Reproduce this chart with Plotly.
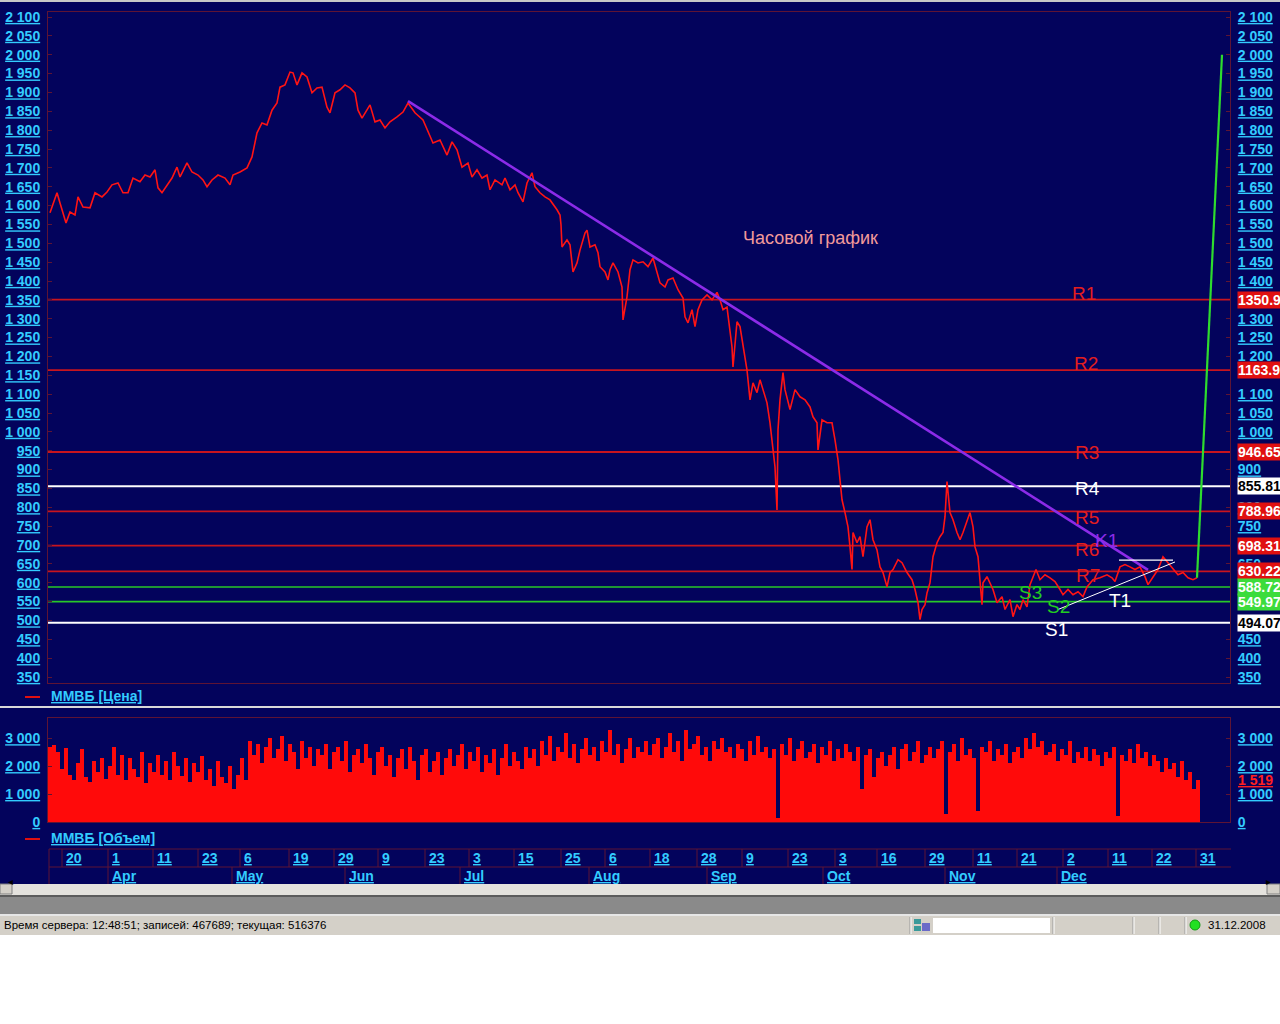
import plotly.graph_objects as go

# ---------------- data ----------------
price_bar = [0, 7, 10, 13, 16, 20, 25, 28, 33, 40, 45, 52, 57, 62, 68, 73, 78, 83, 90, 95,
             100, 105, 108, 112, 117, 122, 127, 130, 137, 142, 148, 153, 157, 162, 168, 175, 180, 183, 190, 197,
             202, 207, 212, 217, 222, 227, 230, 235, 240, 243, 247, 252, 257, 262, 267, 272, 277, 280, 285, 290,
             295, 300, 305, 308, 312, 315, 320, 325, 330, 335, 340, 347, 353, 358, 365, 373, 378, 383, 390, 397,
             402, 407, 412, 418, 422, 427, 432, 437, 440, 445, 452, 455, 460, 465, 468, 473, 477, 482, 485, 490,
             495, 500, 507, 510, 511, 512, 517, 520, 523, 527, 530, 535, 537, 540, 545, 548, 550, 555, 558, 560,
             563, 568, 572, 573, 577, 580, 583, 588, 593, 598, 603, 607, 610, 615, 618, 623, 628, 633, 635, 638,
             642, 645, 648, 652, 657, 662, 667, 670, 673, 677, 680, 682, 683, 685, 687, 690, 693, 697, 700, 703,
             707, 710, 713, 717, 720, 723, 725, 727, 728, 730, 733, 735, 740, 745, 750, 755, 760, 763, 767, 768,
             772, 777, 782, 785, 788, 790, 792, 795, 798, 800, 802, 803, 807, 810, 813, 817, 820, 823, 827, 830,
             833, 837, 840, 843, 848, 852, 857, 862, 865, 868, 870, 872, 875, 877, 880, 883, 887, 890, 893, 895,
             897, 900, 903, 907, 910, 913, 917, 920, 923, 925, 928, 930, 932, 933, 937, 943, 947, 952, 955, 960,
             963, 967, 970, 973, 977, 980, 983, 986, 990, 995, 1000, 1005, 1010, 1013, 1018, 1023, 1028, 1033, 1037, 1043,
             1050, 1057, 1062, 1065, 1070, 1075, 1080, 1085, 1090, 1095, 1098, 1103, 1108, 1113, 1118, 1123, 1128, 1133, 1138, 1143,
             1147]
price_close = [1581, 1634, 1607, 1581, 1554, 1583, 1575, 1623, 1596, 1594, 1634, 1623, 1636, 1655, 1660, 1634, 1634, 1673, 1663, 1681,
               1676, 1695, 1647, 1634, 1655, 1673, 1702, 1676, 1713, 1689, 1681, 1668, 1650, 1668, 1681, 1673, 1655, 1681, 1689, 1700,
               1729, 1793, 1819, 1814, 1853, 1872, 1914, 1920, 1954, 1952, 1920, 1952, 1941, 1899, 1912, 1914, 1861, 1846, 1899, 1907,
               1920, 1912, 1899, 1853, 1832, 1846, 1867, 1822, 1827, 1806, 1822, 1835, 1848, 1872, 1846, 1827, 1795, 1766, 1774, 1734,
               1769, 1748, 1702, 1713, 1676, 1695, 1673, 1681, 1642, 1668, 1655, 1673, 1642, 1655, 1634, 1610, 1660, 1687, 1650, 1634,
               1623, 1615, 1589, 1575, 1549, 1490, 1509, 1496, 1424, 1448, 1482, 1527, 1535, 1490, 1496, 1475, 1438, 1424, 1403, 1430,
               1448, 1424, 1384, 1297, 1358, 1430, 1456, 1448, 1451, 1438, 1461, 1424, 1395, 1384, 1403, 1408, 1377, 1355, 1305, 1289,
               1324, 1279, 1324, 1350, 1363, 1350, 1370, 1350, 1324, 1331, 1270, 1225, 1172, 1244, 1292, 1279, 1225, 1164, 1085, 1130,
               1104, 1138, 1112, 1077, 1024, 960, 907, 793, 1005, 1085, 1157, 1112, 1059, 1112, 1093, 1085, 1066, 1040, 1024, 952,
               1032, 1024, 1024, 979, 926, 873, 820, 786, 748, 695, 635, 733, 706, 722, 669, 748, 767, 714, 687, 642,
               627, 589, 627, 635, 661, 653, 627, 608, 582, 547, 502, 529, 542, 573, 600, 669, 706, 722, 733, 775,
               868, 786, 767, 733, 714, 733, 767, 786, 748, 695, 669, 600, 542, 600, 616, 582, 547, 563, 529, 555,
               510, 542, 529, 555, 536, 595, 616, 635, 608, 621, 613, 603, 582, 568, 582, 568, 576, 563, 589, 608,
               613, 621, 613, 603, 642, 648, 642, 635, 642, 616, 595, 616, 635, 669, 653, 635, 621, 627, 613, 608,
               613]

vol_values = [2700, 2750, 2500, 1900, 2650, 1700, 1500, 2100, 2600, 1600, 1450, 2200, 1800, 2300, 1550, 2000, 2700, 1700, 2400, 1500,
              2300, 1900, 1600, 2500, 1400, 2100, 1800, 2400, 1700, 2200, 1500, 2500, 2000, 1650, 2300, 1450, 2100, 1800, 2350, 1500,
              1900, 1300, 2200, 1600, 1400, 2000, 1200, 1700, 2300, 1500,
              2900, 2400, 2800, 2100, 2700, 3000, 2300, 2600, 3100, 2200, 2800, 2500, 1900, 2900, 2300, 2700, 2000, 2600, 2400, 2800,
              1900, 2500, 2700, 2200, 2900, 1800, 2400, 2600, 2100, 2800, 2300, 1700, 2500, 2700, 2000, 2400, 1600, 2300, 2600, 1900,
              2700, 2200, 1500, 2400, 2600, 1800, 2200, 2500, 1700, 2300,
              2600, 2000, 2400, 2800, 1900, 2500, 2200, 2700, 1800, 2400, 2100, 2600, 1700, 2300, 2800, 2000, 2500, 2200, 1900, 2700,
              2300, 2600, 2000, 2900, 2400, 3100, 2200, 2700, 2500, 3200, 2300, 2800, 2100, 2600, 3000, 2400, 2700, 2200, 2900, 2500,
              3300, 2400, 2800, 2100, 2600, 3000, 2300, 2700, 2500, 2900,
              2400, 2800, 3000, 2300, 2700, 3200, 2500, 2900, 2200, 3300, 2600, 2800, 3100, 2400, 2700, 2200, 2900, 2600, 3000, 2500,
              2700, 2300, 2800, 2600, 2200, 2900, 2400, 3100, 2500, 2700, 2300, 2600, 150, 2800, 2400, 3000, 2200, 2600, 2900, 2300,
              2500, 2800, 2100, 2700, 2400, 2900, 2200, 2600, 2300, 2800,
              2500, 2200, 2700, 1200, 2400, 2600, 1600, 2300, 2500, 2000, 2400, 2700, 1900, 2600, 2800, 2200, 2500, 2900, 2100, 2400,
              2700, 2300, 2600, 2900, 300, 2500, 2800, 2200, 3000, 2400, 2600, 2300, 400, 2700, 2500, 2900, 2200, 2600, 2400, 2800,
              2100, 2500, 2700, 2300, 3000, 2600, 3200, 2700, 2900, 2400,
              2500, 2800, 2200, 2600, 2400, 2900, 2100, 2500, 2300, 2700, 2200, 2600, 2400, 2000, 2500, 2300, 2700, 200, 2400, 2200,
              2600, 2100, 2800, 2300, 2500, 2000, 2400, 2200, 1800, 2300, 1900, 2100, 1600, 2200, 1500, 1800, 1200, 1519]
vol_step = 4
vol_current = 1519

price_ticks = list(range(350, 2101, 50))
price_ticks_right = [2100, 2050, 2000, 1950, 1900, 1850, 1800, 1750, 1700, 1650, 1600, 1550, 1500, 1450, 1400,
                     1300, 1250, 1200, 1100, 1050, 1000, 900, 800, 750, 650, 450, 400, 350]
vol_ticks = [0, 1000, 2000, 3000]

level_values = [1350.9, 1163.9, 946.65, 855.81, 788.96, 698.31, 630.22, 588.72, 549.97, 494.07]
level_names = ["R1", "R2", "R3", "R4", "R5", "R6", "R7", "S3", "S2", "S1"]
level_kinds = ["r", "r", "r", "w", "r", "r", "r", "g", "g", "w"]
label_bar = [1034, 1036, 1037, 1037, 1037, 1037, 1038, 980, 1008, 1006]
label_price = [1368, 1180, 944, 851, 772, 687, 618, 575, 536, 477]

k1_bar, k1_price = [358, 1098], [1877, 634]
t1_bar, t1_price = [1008, 1125], [529, 655]
cap_bar, cap_price = [1069, 1123], [660, 660]
fc_bar, fc_price = [1147, 1172], [613, 2000]

day_labels = ["20", "1", "11", "23", "6", "19", "29", "9", "23", "3", "15", "25", "6", "18", "28", "9",
              "23", "3", "16", "29", "11", "21", "2", "11", "22", "31"]
day_bars = [12, 58, 103, 148, 190, 239, 284, 328, 375, 419, 464, 511, 555, 600, 647, 692,
            738, 785, 827, 875, 923, 967, 1013, 1058, 1102, 1146]
month_labels = ["Apr", "May", "Jun", "Jul", "Aug", "Sep", "Oct", "Nov", "Dec"]
month_bars = [58, 182, 295, 410, 539, 657, 773, 895, 1007]

# ---------------- styling ----------------
W, H = 1280, 1024
NAVY = "#03035C"
FRAME = "#5E1434"
CYAN = "#33CCFF"
RED_LINE = "#C8141E"
GREEN_LINE = "#28C828"
TICKFONT = dict(family="Liberation Sans", size=14, color=CYAN, weight="bold", lineposition="under")


def PX(p):
    return p / W


def PY(p):
    return 1 - p / H


def thousands(v):
    return f"{v:,}".replace(",", " ")


XR = [-2, 1180]
PRANGE = [334.1, 2113.3]
VRANGE = [0, 3727]

fig = go.Figure()

# price line
fig.add_trace(go.Scatter(x=price_bar, y=price_close, mode="lines",
                         line=dict(color="#FF1414", width=1.6), xaxis="x", yaxis="y", hoverinfo="skip"))
# trend lines
fig.add_trace(go.Scatter(x=k1_bar, y=k1_price, mode="lines", line=dict(color="#8C2BE8", width=2.6),
                         xaxis="x", yaxis="y", hoverinfo="skip"))
fig.add_trace(go.Scatter(x=t1_bar, y=t1_price, mode="lines", line=dict(color="#FFFFFF", width=1),
                         xaxis="x", yaxis="y", hoverinfo="skip"))
fig.add_trace(go.Scatter(x=cap_bar, y=cap_price, mode="lines", line=dict(color="#FFFFFF", width=1.2),
                         xaxis="x", yaxis="y", hoverinfo="skip"))
fig.add_trace(go.Scatter(x=fc_bar, y=fc_price, mode="lines", line=dict(color="#2EDC2E", width=2.2),
                         xaxis="x", yaxis="y", hoverinfo="skip"))
# invisible trace so the right price axis exists
fig.add_trace(go.Scatter(x=price_bar[:1], y=price_close[:1], mode="markers", marker=dict(opacity=0),
                         xaxis="x", yaxis="y2", hoverinfo="skip"))
# volume
vol_bar = [i * vol_step for i in range(len(vol_values))]
fig.add_trace(go.Bar(x=vol_bar, y=vol_values, width=vol_step, marker=dict(color="#FF0A0A", line=dict(width=0)),
                     xaxis="x2", yaxis="y3", hoverinfo="skip"))
fig.add_trace(go.Scatter(x=vol_bar[:1], y=vol_values[:1], mode="markers", marker=dict(opacity=0),
                         xaxis="x2", yaxis="y4", hoverinfo="skip"))

axis_common = dict(showgrid=False, zeroline=False, showline=True, linecolor=FRAME, linewidth=1, automargin=False)
ydef = dict(ticks="inside", ticklen=4, tickcolor=FRAME, tickfont=TICKFONT, ticklabelstandoff=4,
            tickmode="array", **axis_common)

fig.update_layout(
    width=W, height=H, autosize=False, margin=dict(l=0, r=0, t=0, b=0, pad=0, autoexpand=False),
    paper_bgcolor=NAVY, plot_bgcolor=NAVY, showlegend=False, bargap=0,
    font=dict(family="Liberation Sans", size=14, color=CYAN),
    xaxis=dict(domain=[PX(48), PX(1230)], range=XR, showticklabels=False, ticks="", mirror=True,
               anchor="y", **axis_common),
    yaxis=dict(domain=[PY(683), PY(12)], range=PRANGE, side="left", mirror=True, anchor="x",
               tickvals=price_ticks, ticktext=[thousands(v) for v in price_ticks], **ydef),
    yaxis2=dict(range=PRANGE, side="right", overlaying="y", anchor="x",
                tickvals=price_ticks_right, ticktext=[thousands(v) for v in price_ticks_right], **ydef),
    xaxis2=dict(domain=[PX(48), PX(1230)], range=XR, showticklabels=False, ticks="", mirror=True,
                anchor="y3", **axis_common),
    yaxis3=dict(domain=[PY(822), PY(718)], range=VRANGE, side="left", mirror=True, anchor="x2",
                tickvals=vol_ticks, ticktext=[thousands(v) for v in vol_ticks], **ydef),
    yaxis4=dict(range=VRANGE, side="right", overlaying="y3", anchor="x2",
                tickvals=vol_ticks, ticktext=[thousands(v) for v in vol_ticks], **ydef),
)

shapes = []
ann = []


def rect(x0, y0, x1, y1, fill, line_color=None, lw=0):
    shapes.append(dict(type="rect", xref="paper", yref="paper", x0=PX(x0), x1=PX(x1), y0=PY(y1), y1=PY(y0),
                       fillcolor=fill, line=dict(width=lw, color=line_color or fill), layer="above"))


def pline(x0, y0, x1, y1, color, w=1):
    shapes.append(dict(type="line", xref="paper", yref="paper", x0=PX(x0), x1=PX(x1), y0=PY(y0), y1=PY(y1),
                       line=dict(color=color, width=w), layer="above"))


# level lines
kind_color = {"r": RED_LINE, "g": GREEN_LINE, "w": "#FFFFFF"}
kind_width = {"r": 1.8, "g": 1.6, "w": 2}
for v, k in zip(level_values, level_kinds):
    shapes.append(dict(type="line", xref="x domain", yref="y", x0=0, x1=1, y0=v, y1=v,
                       line=dict(color=kind_color[k], width=kind_width[k]), layer="below"))

# level labels in plot
label_color = {"r": "#E41E1E", "g": "#22CC22", "w": "#FFFFFF"}
for name, k, b, p in zip(level_names, level_kinds, label_bar, label_price):
    ann.append(dict(x=b, y=p, xref="x", yref="y", text=name, showarrow=False,
                    font=dict(family="Liberation Sans", size=19, color=label_color[k])))
ann.append(dict(x=1070, y=554, xref="x", yref="y", text="T1", showarrow=False,
                font=dict(family="Liberation Sans", size=19, color="#FFFFFF")))
ann.append(dict(x=1056, y=711, xref="x", yref="y", text="K1", showarrow=False,
                font=dict(family="Liberation Sans", size=19, color="#8C2BE8")))
ann.append(dict(x=760, y=1514, xref="x", yref="y", text="Часовой график", showarrow=False,
                font=dict(family="Liberation Sans", size=18, color="#F29A9A")))

# right side value boxes
box_bg = {"r": "#E01010", "g": "#3CDC3C", "w": "#FFFFFF"}
box_fg = {"r": "#FFFFFF", "g": "#FFFFFF", "w": "#000000"}
for v, k in zip(level_values, level_kinds):
    ann.append(dict(x=PX(1237), y=v, xref="paper", yref="y", text=f"{v:g}", showarrow=False,
                    xanchor="left", yanchor="middle", bgcolor=box_bg[k], borderpad=0,
                    font=dict(family="Liberation Sans", size=14, weight="bold", color=box_fg[k])))
ann.append(dict(x=PX(1237), y=vol_current, xref="paper", yref="y3", text=thousands(vol_current),
                showarrow=False, xanchor="left", yanchor="middle", borderpad=0,
                font=dict(family="Liberation Sans", size=14, weight="bold", color="#FF2020",
                          lineposition="under")))

# pane legends
for ytxt, txt in [(696, "ММВБ [Цена]"), (838, "ММВБ [Объем]")]:
    pline(25, ytxt + 1, 40, ytxt + 1, "#E01010", 2)
    ann.append(dict(x=PX(49), y=PY(ytxt), xref="paper", yref="paper", text=txt, showarrow=False,
                    xanchor="left", yanchor="middle", font=TICKFONT))

# separators and borders
rect(0, 0, W, 2, "#C8C8C8")
rect(0, 706, W, 708, "#D8D8D8")

# date axis area
pline(49, 849, 1231, 849, FRAME)
pline(49, 867, 1231, 867, FRAME)
pline(49, 849, 49, 884, FRAME)
for lab, b in zip(day_labels, day_bars):
    shapes.append(dict(type="line", xref="x", yref="paper", x0=b, x1=b, y0=PY(867), y1=PY(849),
                       line=dict(color=FRAME, width=1), layer="above"))
    ann.append(dict(x=b + 2, y=PY(858), xref="x", yref="paper", text=lab, showarrow=False,
                    xanchor="left", yanchor="middle", font=TICKFONT))
for lab, b in zip(month_labels, month_bars):
    shapes.append(dict(type="line", xref="x", yref="paper", x0=b, x1=b, y0=PY(884), y1=PY(867),
                       line=dict(color=FRAME, width=1), layer="above"))
    ann.append(dict(x=b + 2, y=PY(876), xref="x", yref="paper", text=lab, showarrow=False,
                    xanchor="left", yanchor="middle", font=TICKFONT))

# window chrome below the chart
rect(0, 884, W, 895, "#E4E2DD")
rect(0, 884, 12, 894, "#D4D0C8", "#808080", 1)
rect(1267, 884, 1280, 894, "#D4D0C8", "#808080", 1)
ann.append(dict(x=PX(6), y=PY(889), xref="paper", yref="paper", text="◂", showarrow=False,
                font=dict(family="DejaVu Sans", size=10, color="#000000")))
ann.append(dict(x=PX(1273), y=PY(889), xref="paper", yref="paper", text="▸", showarrow=False,
                font=dict(family="DejaVu Sans", size=10, color="#000000")))
rect(0, 895, W, 897, "#5C5C5C")
rect(0, 897, W, 914, "#8A8A8A")
rect(0, 914, W, 916, "#E6E6E6")
rect(0, 916, W, 935, "#D4D0C8")
rect(0, 935, W, H, "#FFFFFF")
rect(933, 918, 1050, 933, "#FFFFFF")
for xs in [910, 1053, 1133, 1159, 1185]:
    pline(xs, 917, xs, 934, "#9A9A9A")
    pline(xs + 1, 917, xs + 1, 934, "#FFFFFF")
rect(914, 919, 921, 924, "#3A9A9A")
rect(914, 926, 921, 931, "#3A9A9A")
rect(922, 923, 930, 931, "#6A6AC8")
shapes.append(dict(type="circle", xref="paper", yref="paper", x0=PX(1190), x1=PX(1200), y0=PY(930), y1=PY(920),
                   fillcolor="#22E022", line=dict(color="#119911", width=1), layer="above"))
ann.append(dict(x=PX(2), y=PY(925), xref="paper", yref="paper", xanchor="left", yanchor="middle",
                text="Время сервера: 12:48:51; записей: 467689; текущая: 516376", showarrow=False,
                font=dict(family="Liberation Sans", size=11.5, color="#000000")))
ann.append(dict(x=PX(1206), y=PY(925), xref="paper", yref="paper", xanchor="left", yanchor="middle",
                text="31.12.2008", showarrow=False,
                font=dict(family="Liberation Sans", size=11.5, color="#000000")))

fig.update_layout(shapes=shapes, annotations=ann)

fig.write_html("out.html", include_plotlyjs=True, full_html=True,
               config={"displayModeBar": False, "staticPlot": True},
               post_script="document.body.style.margin='0';document.body.style.overflow='hidden';")
